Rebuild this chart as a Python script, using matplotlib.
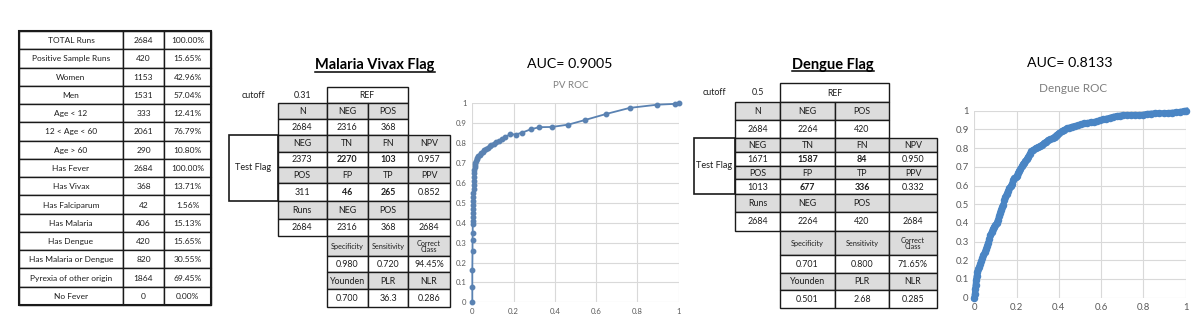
import matplotlib
matplotlib.use("Agg")
import matplotlib.pyplot as plt
from matplotlib.patches import Rectangle

plt.rcParams['font.family'] = ['Lato', 'DejaVu Sans']

# ---- summary table
summary_labels = ["TOTAL Runs", "Positive Sample Runs", "Women", "Men", "Age < 12",
                  "12 < Age < 60", "Age > 60", "Has Fever", "Has Vivax", "Has Falciparum",
                  "Has Malaria", "Has Dengue", "Has Malaria or Dengue",
                  "Pyrexia of other origin", "No Fever"]
summary_counts = [2684, 420, 1153, 1531, 333, 2061, 290, 2684, 368, 42, 406, 420, 820, 1864, 0]
summary_pcts = ["100.00%", "15.65%", "42.96%", "57.04%", "12.41%", "76.79%", "10.80%",
                "100.00%", "13.71%", "1.56%", "15.13%", "15.65%", "30.55%", "69.45%", "0.00%"]

# ---- flag tables (malaria vivax, dengue)
flag_titles = ["Malaria Vivax Flag", "Dengue Flag"]
cutoffs = ["0.31", "0.5"]
total_runs = 2684
ref_neg = [2316, 2264]
ref_pos = [368, 420]
test_neg = [2373, 1671]
test_pos = [311, 1013]
tn = [2270, 1587]
fn = [103, 84]
fp = [46, 677]
tp = [265, 336]
npv = ["0.957", "0.950"]
ppv = ["0.852", "0.332"]
specificity = ["0.980", "0.701"]
sensitivity = ["0.720", "0.800"]
correct_class = ["94.45%", "71.65%"]
youden = ["0.700", "0.501"]
plr = ["36.3", "2.68"]
nlr = ["0.286", "0.285"]
auc = ["0.9005", "0.8133"]
roc_titles = ["PV ROC", "Dengue ROC"]

# ---- ROC points (fpr, tpr)
pv_roc = [(0, 0), (0, 0.075), (0, 0.16), (0.001, 0.26), (0.001, 0.315), (0.002, 0.35),
          (0.002, 0.395), (0.003, 0.41), (0.003, 0.43), (0.003, 0.45), (0.004, 0.47),
          (0.004, 0.49), (0.005, 0.51), (0.005, 0.53), (0.005, 0.55), (0.006, 0.57),
          (0.006, 0.59), (0.007, 0.61), (0.008, 0.63), (0.009, 0.65), (0.010, 0.665),
          (0.011, 0.68), (0.013, 0.69), (0.015, 0.70), (0.018, 0.71), (0.021, 0.718),
          (0.025, 0.726), (0.030, 0.733), (0.036, 0.740), (0.043, 0.748), (0.050, 0.756),
          (0.058, 0.763), (0.066, 0.770), (0.075, 0.777), (0.084, 0.784), (0.093, 0.790),
          (0.103, 0.797), (0.113, 0.805), (0.127, 0.812), (0.142, 0.820), (0.160, 0.832),
          (0.185, 0.845), (0.210, 0.843), (0.242, 0.853), (0.285, 0.870), (0.325, 0.880),
          (0.385, 0.881), (0.466, 0.893), (0.546, 0.916), (0.647, 0.946), (0.763, 0.977),
          (0.897, 0.993), (0.980, 0.997), (1.0, 1.0)]

dengue_roc = [(0, 0), (0.002, 0.02), (0.004, 0.045), (0.006, 0.07), (0.008, 0.095),
              (0.011, 0.118), (0.015, 0.14), (0.019, 0.155), (0.023, 0.165), (0.027, 0.18),
              (0.033, 0.195), (0.038, 0.21), (0.043, 0.228), (0.050, 0.245), (0.055, 0.26),
              (0.060, 0.275), (0.066, 0.295), (0.071, 0.315), (0.076, 0.335), (0.082, 0.352),
              (0.088, 0.368), (0.093, 0.378), (0.100, 0.388), (0.106, 0.40), (0.112, 0.418),
              (0.117, 0.435), (0.122, 0.455), (0.126, 0.47), (0.132, 0.485), (0.137, 0.495),
              (0.142, 0.52), (0.147, 0.54), (0.153, 0.555), (0.160, 0.572), (0.166, 0.585),
              (0.172, 0.595), (0.178, 0.61), (0.184, 0.628), (0.190, 0.638), (0.196, 0.645),
              (0.200, 0.65), (0.206, 0.665), (0.212, 0.678), (0.218, 0.69), (0.224, 0.702),
              (0.230, 0.713), (0.236, 0.72), (0.242, 0.73), (0.248, 0.742), (0.255, 0.755),
              (0.262, 0.77), (0.270, 0.782), (0.280, 0.792), (0.290, 0.80), (0.300, 0.805),
              (0.310, 0.81), (0.320, 0.818), (0.330, 0.826), (0.340, 0.835), (0.350, 0.842),
              (0.360, 0.848), (0.370, 0.853), (0.380, 0.862), (0.390, 0.872), (0.400, 0.88),
              (0.413, 0.89), (0.425, 0.898), (0.437, 0.905), (0.450, 0.91), (0.462, 0.915),
              (0.475, 0.918), (0.490, 0.922), (0.505, 0.928), (0.520, 0.932), (0.535, 0.935),
              (0.550, 0.938), (0.565, 0.94), (0.580, 0.943), (0.595, 0.948), (0.610, 0.953),
              (0.625, 0.958), (0.642, 0.963), (0.658, 0.968), (0.673, 0.972), (0.690, 0.974),
              (0.705, 0.976), (0.720, 0.977), (0.740, 0.977), (0.760, 0.978), (0.780, 0.977),
              (0.800, 0.979), (0.815, 0.983), (0.835, 0.985), (0.855, 0.986), (0.875, 0.986),
              (0.895, 0.987), (0.915, 0.988), (0.935, 0.99), (0.955, 0.992), (0.975, 0.995),
              (0.990, 0.998), (1.0, 1.0)]


W, H = 1200, 325
GREY = '#dcdcdc'
EDGE = '#1a1a1a'
TXT = '#1e1e1e'

fig = plt.figure(figsize=(12, 3.25), dpi=100)
ax0 = fig.add_axes([0, 0, 1, 1])
ax0.set_xlim(0, W)
ax0.set_ylim(H, 0)
ax0.axis('off')


def cell(x0, x1, y0, y1, text='', fill='white', bold=False, size=6.0, lw=1.0):
    ax0.add_patch(Rectangle((x0, y0), x1 - x0, y1 - y0, fc=fill, ec=EDGE, lw=lw))
    if text != '':
        ax0.text((x0 + x1) / 2, (y0 + y1) / 2 + 0.5, text, ha='center', va='center',
                 fontsize=size, color=TXT, fontweight='bold' if bold else 'normal',
                 linespacing=0.9)


# summary table on the left
sum_cols = [19, 123, 164, 211]
sum_top, sum_bot = 31, 305
rh = (sum_bot - sum_top) / len(summary_labels)
for i, (lab, n, p) in enumerate(zip(summary_labels, summary_counts, summary_pcts)):
    y0 = sum_top + i * rh
    cell(sum_cols[0], sum_cols[1], y0, y0 + rh, lab, size=6.0)
    cell(sum_cols[1], sum_cols[2], y0, y0 + rh, str(n), size=6.0)
    cell(sum_cols[2], sum_cols[3], y0, y0 + rh, p, size=6.0)
ax0.add_patch(Rectangle((sum_cols[0], sum_top), sum_cols[3] - sum_cols[0], sum_bot - sum_top,
                        fc='none', ec=EDGE, lw=1.5))


def flag_rows(i):
    g, w = GREY, 'white'
    return [
        [("N", g), ("NEG", g), ("POS", g), None],
        [(str(total_runs), w), (str(ref_neg[i]), w), (str(ref_pos[i]), w), None],
        [("NEG", g), ("TN", g), ("FN", g), ("NPV", g)],
        [(str(test_neg[i]), w), (str(tn[i]), w, True), (str(fn[i]), w, True), (npv[i], w)],
        [("POS", g), ("FP", g), ("TP", g), ("PPV", g)],
        [(str(test_pos[i]), w), (str(fp[i]), w, True), (str(tp[i]), w, True), (ppv[i], w)],
        [("Runs", g), ("NEG", g), ("POS", g), ("", g)],
        [(str(total_runs), w), (str(ref_neg[i]), w), (str(ref_pos[i]), w), (str(total_runs), w)],
        [None, ("Specificity", g, False, 5.2), ("Sensitivity", g, False, 5.2),
         ("Correct\nClass", g, False, 5.2)],
        [None, (specificity[i], w), (sensitivity[i], w), (correct_class[i], w)],
        [None, ("Younden", g), ("PLR", g), ("NLR", g)],
        [None, (youden[i], w), (plr[i], w), (nlr[i], w)],
    ]


def draw_flag(i, cols, rows, title_x, title_base, ul):
    # title, underlined
    t = ax0.text(title_x, title_base, flag_titles[i], ha='center', va='baseline',
                 fontsize=10.5, fontweight='bold')
    fig.canvas.draw()
    bb = t.get_window_extent(fig.canvas.get_renderer()).transformed(ax0.transData.inverted())
    ax0.plot([bb.x0, bb.x1], [title_base + ul, title_base + ul], color='black', lw=1.1)

    ymid = (rows[0] + rows[1]) / 2
    ax0.text((cols[0] + cols[1]) / 2, ymid, "cutoff", ha='center', va='center',
             fontsize=6.4, color=TXT)
    ax0.text((cols[1] + cols[2]) / 2, ymid, cutoffs[i], ha='center', va='center',
             fontsize=6.4, color=TXT)
    cell(cols[2], cols[4], rows[0], rows[1], "REF", size=6.2)

    for r, row in enumerate(flag_rows(i)):
        for c, spec in enumerate(row):
            if spec is None:
                continue
            text, fill = spec[0], spec[1]
            bold = spec[2] if len(spec) > 2 else False
            size = spec[3] if len(spec) > 3 else 6.4
            cell(cols[c + 1], cols[c + 2], rows[r + 1], rows[r + 2], text, fill, bold, size)

    # Test Flag box
    ax0.add_patch(Rectangle((cols[0], rows[3]), cols[1] - cols[0], rows[7] - rows[3],
                            fc='none', ec=EDGE, lw=1.2))
    ax0.text((cols[0] + cols[1]) / 2, (rows[3] + rows[7]) / 2, "Test Flag",
             ha='center', va='center', fontsize=6.6, color=TXT)


mv_cols = [229, 278, 326.5, 368, 408, 450]
mv_rows = [87, 103, 119, 135, 152, 167, 183, 201, 219, 236, 256, 272, 289, 307]
dg_cols = [694, 735, 780, 835, 889, 937]
dg_rows = [83, 102, 120, 138, 152, 166, 179, 194, 212, 231, 255, 273, 290, 308]

draw_flag(0, mv_cols, mv_rows, 375, 69.5, 2.5)
draw_flag(1, dg_cols, dg_rows, 833, 68.5, 2.5)


def roc_axes(left, right, top, bottom, pts, color, title, auc_txt, title_xy, auc_xy,
             tsize, lsize, lw, ms):
    ax = fig.add_axes([left / W, 1 - bottom / H, (right - left) / W, (bottom - top) / H])
    xs = [p[0] for p in pts]
    ys = [p[1] for p in pts]
    ax.plot(xs, ys, '-', color=color, lw=lw, zorder=3, clip_on=False)
    ax.plot(xs, ys, 'o', color=color, ms=ms, mec=color, zorder=4, clip_on=False)
    ax.set_xlim(0, 1)
    ax.set_ylim(0, 1)
    ax.set_xticks([0, 0.2, 0.4, 0.6, 0.8, 1.0])
    ax.set_xticklabels(["0", "0.2", "0.4", "0.6", "0.8", "1"])
    ax.set_yticks([k / 10 for k in range(11)])
    ax.set_yticklabels(["0"] + ["0.%d" % k for k in range(1, 10)] + ["1"])
    ax.grid(True, color='#d9d9d9', lw=0.8)
    ax.set_axisbelow(True)
    for s in ax.spines.values():
        s.set_visible(False)
    ax.tick_params(length=0, labelsize=lsize, labelcolor='#595959', pad=4)
    ax0.text(title_xy[0], title_xy[1], title, ha='center', va='center',
             fontsize=tsize, color='#7f7f7f')
    ax0.text(auc_xy[0], auc_xy[1], "AUC= " + auc_txt, ha='center', va='center',
             fontsize=10.2, color='black')
    return ax


roc_axes(472.3, 678.7, 103.3, 302.3, pv_roc, '#5a82b2', roc_titles[0], auc[0],
         (571, 86), (570, 64), 7.0, 5.6, 1.3, 3.2)
roc_axes(974.3, 1185.7, 110.7, 297.7, dengue_roc, '#4a85c4', roc_titles[1], auc[1],
         (1073, 88), (1070, 63), 8.5, 6.8, 4.2, 4.4)

fig.savefig("out.png", dpi=100, facecolor='white')
